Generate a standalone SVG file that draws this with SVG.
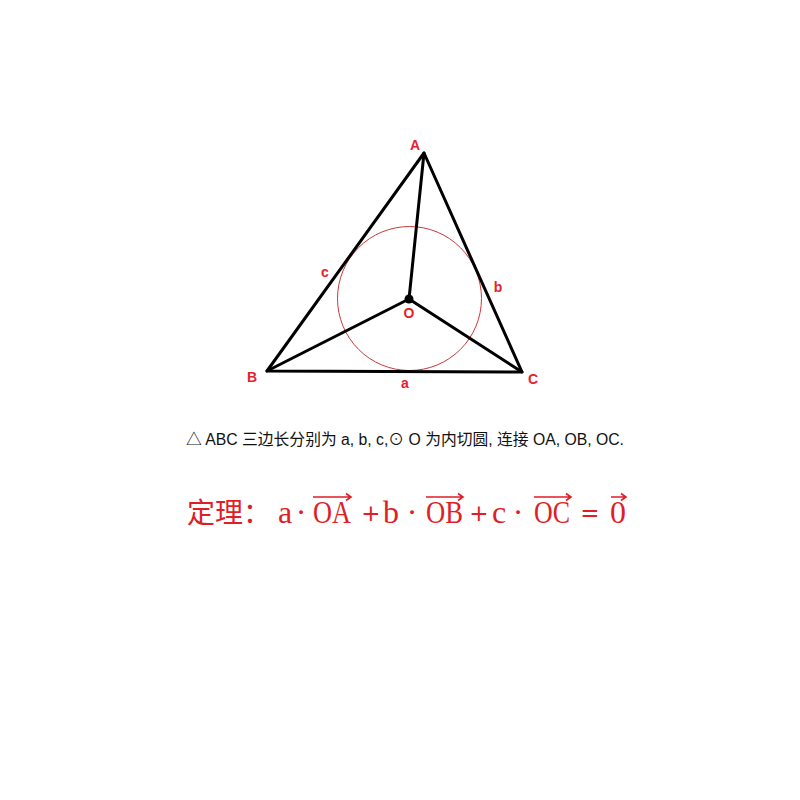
<svg xmlns="http://www.w3.org/2000/svg" width="800" height="800" viewBox="0 0 800 800">
<style>
.edge{stroke:#000;stroke-width:3;fill:none;stroke-linecap:round;stroke-linejoin:round}
.lbl{font-family:"Liberation Sans","DejaVu Sans",sans-serif;font-weight:bold;font-size:14px;fill:#e8202a;text-anchor:middle}
.cap{font-family:"Liberation Sans","Noto Sans CJK SC",sans-serif;font-size:16px;fill:#111}
.m{font-family:"Liberation Serif","Noto Sans CJK SC",serif;font-size:32px;fill:#e01e26}
.op{font-family:"DejaVu Sans",sans-serif;font-size:23px;fill:#e01e26;text-anchor:middle}
.arr{stroke:#e01e26;stroke-width:1.6;fill:none}
</style>
<rect width="800" height="800" fill="#fff"/>
<g id="incircle"><circle cx="409.5" cy="298.5" r="72" fill="none" stroke="#c8383c" stroke-width="1"/></g>
<g id="connectors">
<path class="edge" d="M424,153 L267,371 L522,372 Z"/>
<path class="edge" d="M409,299 L424,153 M409,299 L267,371 M409,299 L522,372"/>
</g>
<g id="node-O"><circle cx="409" cy="299" r="4.5" fill="#000"/><text class="lbl" x="409" y="318">O</text></g>
<g id="node-A"><text class="lbl" x="415" y="150">A</text></g>
<g id="node-B"><text class="lbl" x="252" y="382">B</text></g>
<g id="node-C"><text class="lbl" x="533" y="384">C</text></g>
<g id="side-a"><text class="lbl" x="405" y="388">a</text></g>
<g id="side-b"><text class="lbl" x="498" y="292">b</text></g>
<g id="side-c"><text class="lbl" x="325" y="277">c</text></g>
<g id="caption"><text class="cap" x="186" y="445" textLength="438" lengthAdjust="spacingAndGlyphs">△ ABC 三边长分别为 a, b, c,⊙ O 为内切圆, 连接 OA, OB, OC.</text></g>
<g id="theorem">
<text class="m" x="187" y="523" style="font-family:'Noto Sans CJK SC',sans-serif;font-size:28px">定理：</text>
<text class="m" x="278" y="523">a</text>
<text class="m" x="301" y="523" text-anchor="middle">·</text>
<text class="m" x="313" y="523" textLength="38" lengthAdjust="spacingAndGlyphs">OA</text>
<text class="op" x="371" y="521">+</text>
<text class="m" x="383" y="523">b</text>
<text class="m" x="412" y="523" text-anchor="middle">·</text>
<text class="m" x="426" y="523" textLength="37" lengthAdjust="spacingAndGlyphs">OB</text>
<text class="op" x="479" y="521">+</text>
<text class="m" x="492" y="523">c</text>
<text class="m" x="518" y="523" text-anchor="middle">·</text>
<text class="m" x="534" y="523" textLength="36" lengthAdjust="spacingAndGlyphs">OC</text>
<text class="op" x="590" y="521">=</text>
<text class="m" x="610" y="523">0</text>
<path class="arr" d="M313,497 H351 M346,493.5 L351,497 L346,500.5"/>
<path class="arr" d="M426,497 H463 M458,493.5 L463,497 L458,500.5"/>
<path class="arr" d="M534,497 H571 M566,493.5 L571,497 L566,500.5"/>
<path class="arr" d="M611,497 H626 M621,493.5 L626,497 L621,500.5"/>
</g>
</svg>
